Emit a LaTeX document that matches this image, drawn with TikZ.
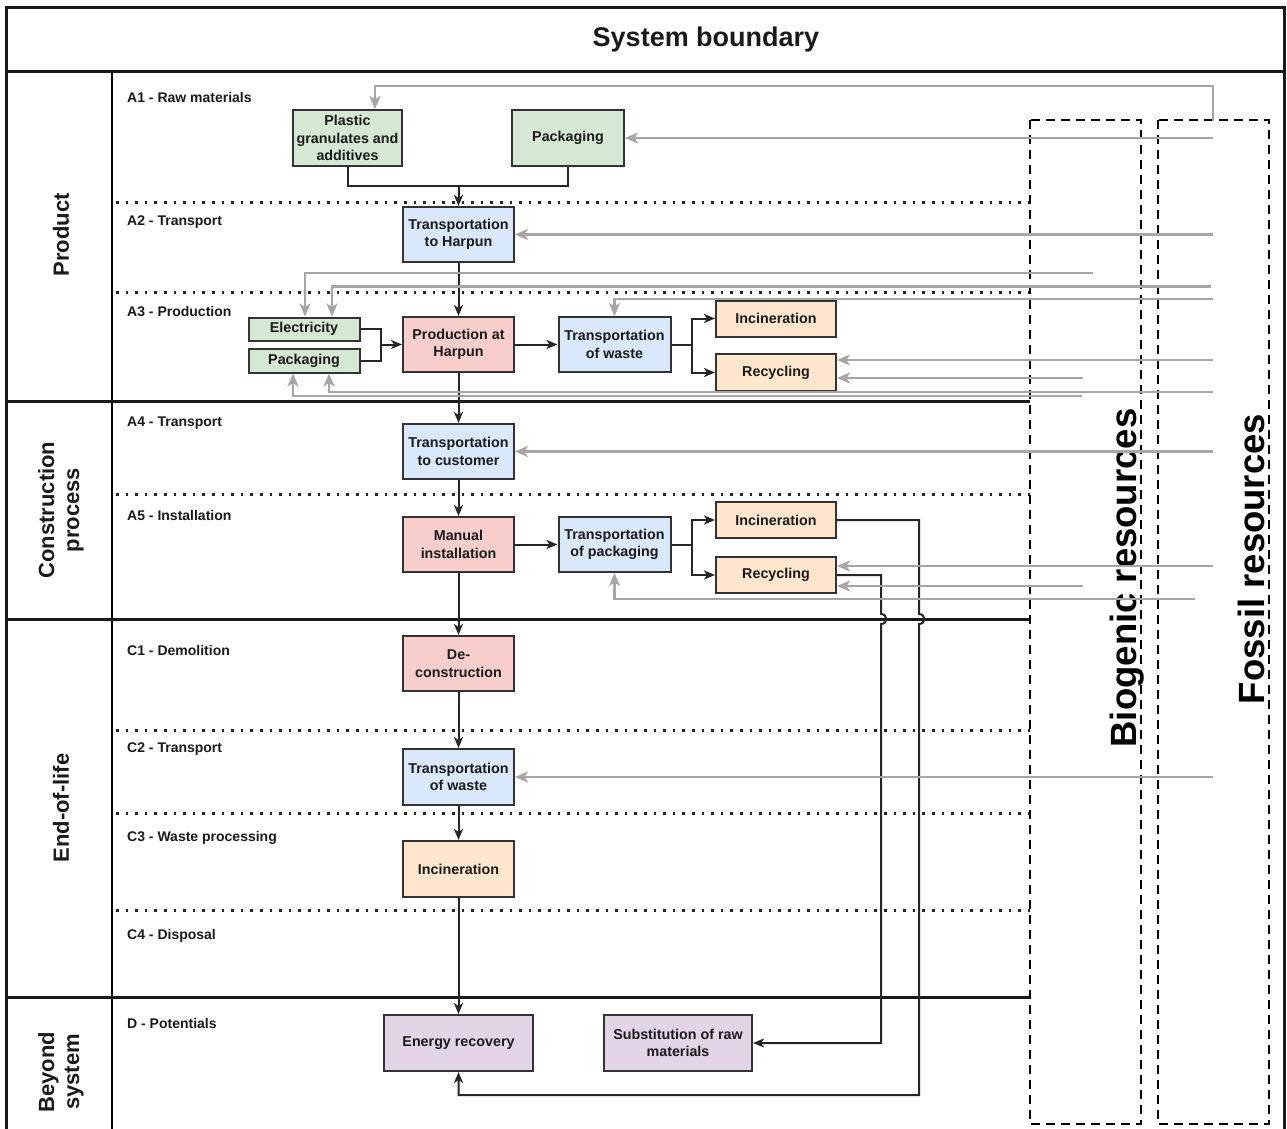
\documentclass[tikz,border=0pt]{standalone}
\usepackage{fontspec}
\setmainfont{Liberation Sans}
\usetikzlibrary{arrows.meta,calc}
\definecolor{gfill}{HTML}{D5E8D4}
\definecolor{bfill}{HTML}{DAE8FC}
\definecolor{rfill}{HTML}{F8CECC}
\definecolor{ofill}{HTML}{FFE6CC}
\definecolor{pfill}{HTML}{E1D5E7}
\definecolor{boxline}{HTML}{333333}
\definecolor{grayc}{HTML}{A6A6A6}
\definecolor{txt}{HTML}{1A1A1A}
\newcommand\myboxfont{\bfseries\fontsize{14.3}{17.5}\selectfont}
\newcommand\mysubfont{\bfseries\fontsize{14}{16}\selectfont}
\newcommand\mysecfont{\bfseries\fontsize{22}{25}\selectfont}
\newcommand\myresfont{\bfseries\fontsize{36.5}{40}\selectfont}
\begin{document}
\begin{tikzpicture}[x=1pt,y=-1pt,
  box/.style={draw=boxline, line width=2pt, inner sep=1pt, align=center, font=\myboxfont, text=txt, minimum width=111pt, minimum height=55pt},
  gbox/.style={box, fill=gfill},
  bbox/.style={box, fill=bfill},
  rbox/.style={box, fill=rfill},
  obox/.style={box, fill=ofill, minimum width=120pt, minimum height=36pt},
  pbox/.style={box, fill=pfill, minimum width=149pt, minimum height=56pt},
  sublbl/.style={font=\mysubfont, text=txt, anchor=west, inner sep=0pt},
  seclbl/.style={font=\mysecfont, text=txt, rotate=90, align=center},
  reslbl/.style={font=\myresfont, text=black, rotate=90, anchor=base, inner sep=0pt},
  frameline/.style={line width=3pt, draw=black!90},
  dotline/.style={line width=3pt, draw=black!85, dash pattern=on 2.6pt off 7pt},
  dashbox/.style={line width=2.6pt, draw=black, dash pattern=on 9pt off 6pt},
  blk/.style={line width=2pt, draw=black!85},
  blkarr/.style={blk, -{Stealth[length=11pt,width=9pt,inset=3pt]}},
  gry/.style={line width=2.5pt, draw=grayc, -{Stealth[length=13pt,width=11pt,inset=3.5pt]}}
]
\useasboundingbox (0,0) rectangle (1287,1129);
\fill[white] (0,0) rectangle (1287,1129);

% frame
\draw[frameline] (6,1130) -- (6,8) -- (1284,8) -- (1284,1130);
\draw[frameline] (6,72) -- (1284,72);
\draw[line width=2.6pt] (112,72) -- (112,1130);
\draw[frameline] (6,401) -- (1030,401);
\draw[frameline] (6,619) -- (1030,619);
\draw[frameline] (6,997) -- (1030,997);
\node[font=\bfseries\fontsize{27}{30}\selectfont, text=txt] (title) at (706,40) {System boundary};

% dotted separators
\foreach \yy in {202,292,494,730,813,910}
  \draw[dotline] (116,\yy) -- (1030,\yy);

% resource boxes
\draw[dashbox] (1030,120) rectangle (1141,1124);
\draw[dashbox] (1158,120) rectangle (1269,1124);
\node[reslbl] (bio) at (1136,578) {Biogenic resources};
\node[reslbl] (fos) at (1264,559) {Fossil resources};

% section labels
\node[seclbl] (sProd) at (61,235) {Product};
\node[seclbl] (sCons) at (61,510) {Construction\\process};
\node[seclbl] (sEnd) at (61,808) {End-of-life};
\node[seclbl] (sBey) at (61,1072) {Beyond\\system};

% sub labels
\node[sublbl] (lA1) at (127,97) {A1 - Raw materials};
\node[sublbl] (lA2) at (127,222) {A2 - Transport};
\node[sublbl] (lA3) at (127,312) {A3 - Production};
\node[sublbl] (lA4) at (127,423) {A4 - Transport};
\node[sublbl] (lA5) at (127,515) {A5 - Installation};
\node[sublbl] (lC1) at (127,650) {C1 - Demolition};
\node[sublbl] (lC2) at (127,749) {C2 - Transport};
\node[sublbl] (lC3) at (127,838) {C3 - Waste processing};
\node[sublbl] (lC4) at (127,936) {C4 - Disposal};
\node[sublbl] (lD) at (127,1023) {D - Potentials};

% black connectors (drawn before boxes)
\coordinate (m1) at (458.5,186);
\coordinate (m2) at (381,344.5);
\coordinate (m3) at (692,344.5);
\coordinate (m4) at (692,544.5);

% boxes
\node[gbox, minimum width=109pt, minimum height=56pt] (plastic) at (347.5,138) {Plastic\\granulates and\\additives};
\node[gbox, minimum width=112pt, minimum height=56pt] (packA) at (568,138) {Packaging};
\node[bbox] (tharpun) at (458.5,234.5) {Transportation\\to Harpun};
\node[gbox, minimum height=23pt] (elec) at (304,329) {Electricity};
\node[gbox, minimum height=24pt] (packB) at (304,360.5) {Packaging};
\node[rbox] (prod) at (458.5,344.5) {Production at\\Harpun};
\node[bbox, minimum width=112pt] (twaste) at (614.5,344.5) {Transportation\\of waste};
\node[obox] (incinA) at (776,318.5) {Incineration};
\node[obox, minimum height=37pt] (recycA) at (776,372.5) {Recycling};
\node[bbox] (tcust) at (458.5,451.5) {Transportation\\to customer};
\node[rbox] (manual) at (458.5,544.5) {Manual\\installation};
\node[bbox, minimum width=112pt] (tpack) at (614.5,544.5) {Transportation\\of packaging};
\node[obox] (incinB) at (776,520) {Incineration};
\node[obox] (recycB) at (776,575) {Recycling};
\node[rbox] (decon) at (458.5,663.5) {De-\\construction};
\node[bbox, minimum height=56pt] (twasteC) at (458.5,777) {Transportation\\of waste};
\node[obox, minimum width=111pt, minimum height=56pt] (incinC) at (458.5,869) {Incineration};
\node[pbox] (energy) at (458.5,1043) {Energy recovery};
\node[pbox, minimum width=148pt] (subst) at (678,1043) {Substitution of raw\\materials};

\draw[blk] (plastic.south) |- (m1);
\draw[blk] (packA.south) |- (m1);
\draw[blkarr] (m1) -- (tharpun.north);
\draw[blkarr] (tharpun) -- (prod);
\draw[blk] (elec.east) -| (m2);
\draw[blk] (packB.east) -| (m2);
\draw[blkarr] (m2) -- (prod.west);
\draw[blkarr] (prod) -- (twaste);
\draw[blk] (twaste.east) -- (m3);
\draw[blkarr] (m3) |- (incinA.west);
\draw[blkarr] (m3) |- (recycA.west);
\draw[blkarr] (prod) -- (tcust);
\draw[blkarr] (tcust) -- (manual);
\draw[blkarr] (manual) -- (tpack);
\draw[blk] (tpack.east) -- (m4);
\draw[blkarr] (m4) |- (incinB.west);
\draw[blkarr] (m4) |- (recycB.west);
\draw[blkarr] (manual) -- (decon);
\draw[blkarr] (decon) -- (twasteC);
\draw[blkarr] (twasteC) -- (incinC);
\draw[blkarr] (incinC) -- (energy);
\coordinate (h1) at (919,614);
\coordinate (h2) at (919,624);
\draw[blkarr] (incinB.east) -| (h1) .. controls (926,614) and (926,624) .. (h2) -- (919,1095) -| (energy.south);
\coordinate (h3) at (881,614);
\coordinate (h4) at (881,624);
\draw[blkarr] (recycB.east) -| (h3) .. controls (888,614) and (888,624) .. (h4) |- (subst.east);

% gray connectors
\coordinate (fA) at (1213,121);
\coordinate (fB) at (1213,138);
\coordinate (fC) at (1213,234.5);
\coordinate (bD) at (1093,273);
\coordinate (fE) at (1211,286.5);
\coordinate (fF) at (1213,299);
\coordinate (fG) at (1213,360);
\coordinate (bH) at (1083,378);
\coordinate (fI) at (1213,392);
\coordinate (bJ) at (1082,396);
\coordinate (fK) at (1213,451.5);
\coordinate (fL) at (1213,566);
\coordinate (bM) at (1083,586);
\coordinate (fN) at (1195,599);
\coordinate (fO) at (1213,777);
\draw[gry] (fA) -- (1213,86) -| ($(plastic.north)+(27.5,0)$);
\draw[gry] (fB) -- (packA.east);
\draw[gry] (fC) -- (tharpun.east);
\draw[gry] (bD) -| ($(elec.north)+(1,0)$);
\draw[gry] (fE) -| ($(elec.north)+(28,0)$);
\draw[gry] (fF) -| (twaste.north);
\draw[gry] (fG) -- (fG -| recycA.east);
\draw[gry] (bH) -- (bH -| recycA.east);
\draw[gry] (fI) -| ($(packB.south)+(25,0)$);
\draw[gry] (bJ) -| ($(packB.south)+(-11,0)$);
\draw[gry] (fK) -- (tcust.east);
\draw[gry] (fL) -- (fL -| recycB.east);
\draw[gry] (bM) -- (bM -| recycB.east);
\draw[gry] (fN) -| (tpack.south);
\draw[gry] (fO) -- (twasteC.east);
\end{tikzpicture}
\end{document}
